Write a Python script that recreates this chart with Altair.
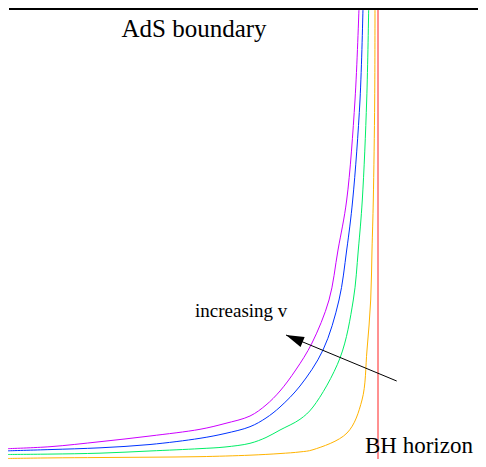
import altair as alt
import pandas as pd

# Curve samples (x to the right, y = height above the bottom of the frame)
purple_x = [0, 42, 92, 142, 192, 217, 242, 258, 272, 287.7, 304, 321, 330, 338.7, 347, 351]
purple_y = [17, 20.3, 25.3, 31, 37.7, 43.5, 51, 62, 76, 97, 124, 167, 217, 267, 367, 459]

blue_x = [0, 42, 92, 142, 192, 217, 242, 258, 272, 292, 315, 331, 338.7, 344.7, 352, 355]
blue_y = [13, 15.3, 18.5, 22.5, 28.7, 33.5, 40.3, 49, 60, 81, 117, 167, 217, 267, 367, 459]

green_x = [0, 42, 92, 142, 192, 217, 242, 258, 272, 292, 305, 332, 345.3, 350.3, 354.3, 358.7, 360.7]
green_y = [6.3, 7, 8.7, 12.7, 17, 20, 23.7, 29.5, 37, 47.7, 60, 109, 167, 217, 267, 367, 459]

orange_x = [0, 42, 92, 142, 192, 242, 272, 292, 305, 339, 354, 359, 362.7, 364, 365.3, 366.7, 367]
orange_y = [-1, 0, 0.7, 1.3, 2.3, 5, 8, 11, 15, 34, 67, 117, 167, 217, 267, 367, 459]

series_names = ["purple", "blue", "green", "orange"]
series_colors = ["#cc00ff", "#0033ff", "#00ee66", "#ffb300"]

horizon_x = 370
boundary_y = 458
arrow_start = (388.7, 86)
arrow_tip = (278, 132)

labels_text = ["AdS boundary", "increasing v", "BH horizon"]
labels_x = [186, 187, 357]
labels_y = [430.3, 150.3, 14]
labels_size = [25, 19, 23]
labels_align = ["center", "left", "left"]

rows = []
for name, xs_, ys_ in [("purple", purple_x, purple_y), ("blue", blue_x, blue_y),
                       ("green", green_x, green_y), ("orange", orange_x, orange_y)]:
    for i, (x, y) in enumerate(zip(xs_, ys_)):
        rows.append({"series": name, "x": x, "y": y, "i": i})
curves = pd.DataFrame(rows)

W, H = 470, 451
xs = alt.Scale(domain=[0, 470], range=[0, 470], nice=False, zero=False)
ys = alt.Scale(domain=[8, 459], range=[451, 0], nice=False, zero=False)
# curves: the lowest strip is squeezed so the bottom tails stay in frame
ys_curves = alt.Scale(domain=[-2, 20, 459], range=[451, 439, 0], nice=False, zero=False)

lines = alt.Chart(curves).mark_line(strokeWidth=1, interpolate="catmull-rom", clip=True).encode(
    x=alt.X("x:Q", scale=xs, axis=None),
    y=alt.Y("y:Q", scale=ys_curves, axis=None),
    color=alt.Color("series:N", scale=alt.Scale(domain=series_names, range=series_colors), legend=None),
    detail="series:N",
    order="i:Q",
)

boundary = alt.Chart(pd.DataFrame({"x": [1], "x2": [470], "y": [boundary_y]})).mark_rule(
    color="black", strokeWidth=2).encode(
    x=alt.X("x:Q", scale=xs, axis=None), x2="x2:Q", y=alt.Y("y:Q", scale=ys, axis=None))

horizon = alt.Chart(pd.DataFrame({"x": [horizon_x], "y": [0], "y2": [459]})).mark_rule(
    color="#ff2222", strokeWidth=1, clip=True).encode(
    x=alt.X("x:Q", scale=xs, axis=None), y=alt.Y("y:Q", scale=ys, axis=None), y2="y2:Q")

arrow_df = pd.DataFrame({"x": [arrow_start[0]], "y": [arrow_start[1]],
                         "x2": [arrow_tip[0]], "y2": [arrow_tip[1]]})
arrow_line = alt.Chart(arrow_df).mark_rule(color="black", strokeWidth=1).encode(
    x=alt.X("x:Q", scale=xs, axis=None), y=alt.Y("y:Q", scale=ys, axis=None), x2="x2:Q", y2="y2:Q")

head = alt.Chart(pd.DataFrame({"x": [arrow_tip[0]], "y": [arrow_tip[1]]})).mark_point(
    shape="M0,0 L-0.6,2 L0.6,2 Z", filled=True, color="black", opacity=1,
    size=324, angle=292.6, strokeWidth=0).encode(
    x=alt.X("x:Q", scale=xs, axis=None), y=alt.Y("y:Q", scale=ys, axis=None))

texts = []
for t, x, y, s, a in zip(labels_text, labels_x, labels_y, labels_size, labels_align):
    texts.append(alt.Chart(pd.DataFrame({"x": [x], "y": [y], "t": [t]})).mark_text(
        font="Liberation Serif", fontSize=s, align=a, baseline="alphabetic", color="black").encode(
        x=alt.X("x:Q", scale=xs, axis=None), y=alt.Y("y:Q", scale=ys, axis=None), text="t:N"))

frame = alt.layer(horizon, boundary, arrow_line, head, *texts)

chart = alt.layer(lines, frame).resolve_scale(y="independent").properties(
    width=W, height=H, padding=0, autosize=alt.AutoSizeParams(type="none")
).configure_view(strokeWidth=0)

chart.save("out.html", embed_options={"renderer": "svg", "actions": False})
